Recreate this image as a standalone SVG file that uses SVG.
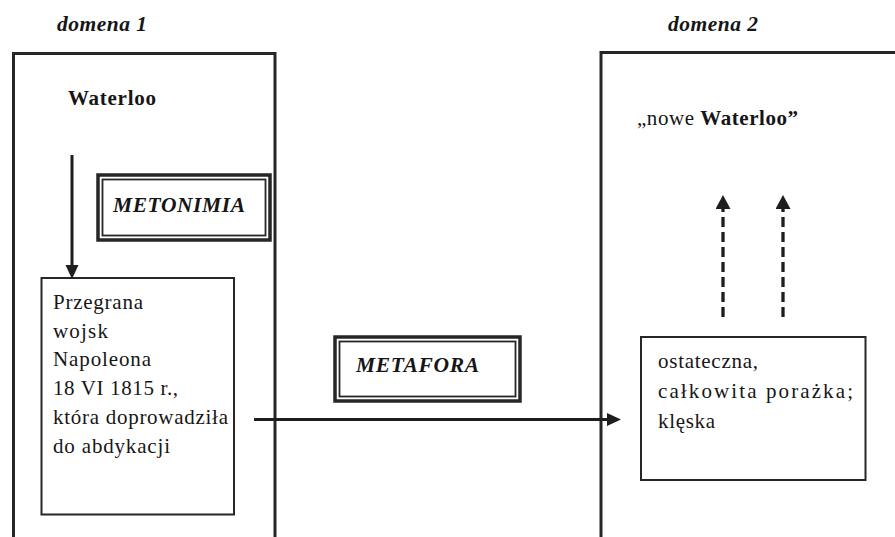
<svg xmlns="http://www.w3.org/2000/svg" width="895" height="537" viewBox="0 0 895 537">
<style>
text{font-family:"Liberation Serif","Times New Roman",serif;fill:#161616;font-size:21px}
.bi{font-weight:bold;font-style:italic;font-size:21.5px}
.b{font-weight:bold}
.dom{fill:none;stroke:#262626;stroke-width:3}
.box{fill:none;stroke:#262626;stroke-width:2}
.outer{fill:none;stroke:#262626;stroke-width:3.5}
.inner{fill:none;stroke:#262626;stroke-width:1.8}
.arr{fill:none;stroke:#1e1e1e;stroke-width:3}
.dash{fill:none;stroke:#1e1e1e;stroke-width:3.3;stroke-dasharray:10 5}
</style>
<defs>
<marker id="ah" markerUnits="userSpaceOnUse" markerWidth="15" markerHeight="14" refX="0" refY="6.5" orient="auto">
<path d="M0,0 L14,6.5 L0,13 z" fill="#1e1e1e"/>
</marker>
<marker id="ahd" markerUnits="userSpaceOnUse" markerWidth="15" markerHeight="16" refX="0" refY="7.5" orient="auto">
<path d="M0,0 L14,7.5 L0,15 z" fill="#1e1e1e"/>
</marker>
</defs>
<rect width="895" height="537" fill="#ffffff"/>

<g id="domena1">
<text class="bi" x="57" y="31" textLength="90">domena 1</text>
<path class="dom" d="M13.5,537 V53.5 H275 V537"/>
</g>
<g id="domena2">
<text class="bi" x="668" y="31" textLength="90">domena 2</text>
<path class="dom" d="M601,537 V52.5 H895"/>
</g>

<g id="waterloo">
<text class="b" x="68" y="105" textLength="88">Waterloo</text>
</g>

<g id="metonimia">
<rect class="outer" x="98" y="175" width="172" height="65"/>
<rect class="inner" x="102.5" y="179.5" width="163" height="56"/>
<text class="bi" x="113" y="212" textLength="132">METONIMIA</text>
</g>

<g id="przegrana">
<rect class="box" x="41.5" y="278" width="192.5" height="236.5"/>
<text x="53" y="309" textLength="90">Przegrana</text>
<text x="53" y="338" textLength="55">wojsk</text>
<text x="53" y="366" textLength="98">Napoleona</text>
<text x="53" y="395" textLength="125">18 VI 1815 r.,</text>
<text x="53" y="424" textLength="175">która doprowadziła</text>
<text x="53" y="453" textLength="117">do abdykacji</text>
</g>

<g id="metafora">
<rect class="outer" x="335" y="337" width="185" height="64"/>
<rect class="inner" x="339.5" y="341.5" width="176" height="55"/>
<text class="bi" x="356" y="372" textLength="123">METAFORA</text>
</g>

<g id="nowe-waterloo">
<text x="637" y="125" textLength="161">„nowe <tspan class="b">Waterloo”</tspan></text>
</g>

<g id="kleska">
<rect class="box" x="641" y="337" width="224.5" height="143"/>
<text x="658" y="368" textLength="100">ostateczna,</text>
<text x="658" y="398" textLength="195">całkowita porażka;</text>
<text x="658" y="428" textLength="57">klęska</text>
</g>

<g id="connectors">
<line class="arr" x1="72" y1="155" x2="72" y2="265" marker-end="url(#ah)"/>
<line class="arr" x1="254" y1="419.5" x2="607" y2="419.5" marker-end="url(#ah)"/>
<line class="dash" x1="723" y1="317" x2="723" y2="209" marker-end="url(#ahd)"/>
<line class="dash" x1="783" y1="317" x2="783" y2="209" marker-end="url(#ahd)"/>
</g>
</svg>
